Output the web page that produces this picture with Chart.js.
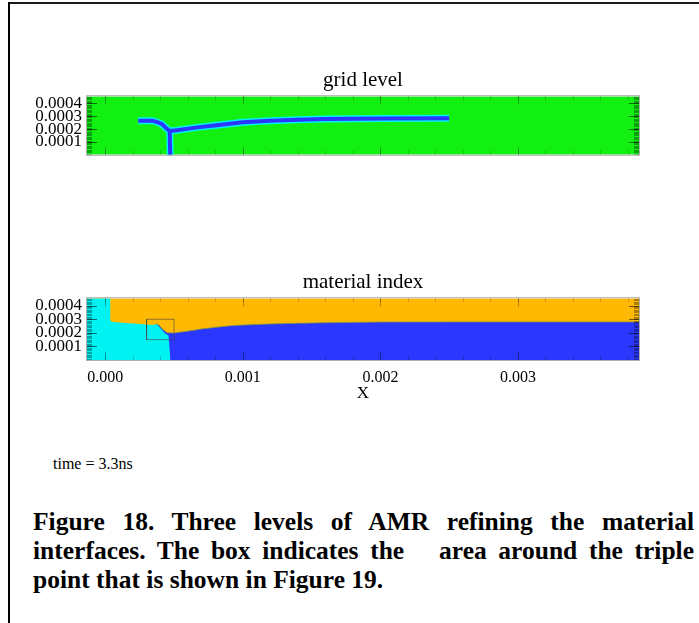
<!DOCTYPE html>
<html><head><meta charset="utf-8">
<script src="https://cdn.jsdelivr.net/npm/chart.js@4.4.1/dist/chart.umd.min.js"></script>
<style>
html,body{margin:0;padding:0;background:#fff;}
#page{position:relative;width:699px;height:623px;overflow:hidden;background:#fff;font-family:'Liberation Serif','Times New Roman',serif;color:#000;}
#frameTop{position:absolute;left:8px;top:2px;width:691px;height:2px;background:#1a1a1a;}
#frameLeft{position:absolute;left:8px;top:2px;width:2px;height:621px;background:#000;}
#c1{position:absolute;left:0;top:55px;}
#c2{position:absolute;left:0;top:258px;}
#time{position:absolute;left:53px;top:455px;font-size:16px;}
.cap{position:absolute;left:33px;width:661px;font-weight:bold;font-size:25.5px;line-height:29px;text-align:justify;text-align-last:justify;white-space:pre-wrap;}
.cap.last{text-align:left;text-align-last:left;}
</style></head>
<body><div id="page">
<div id="frameTop"></div><div id="frameLeft"></div>
<canvas id="c1" width="699" height="115"></canvas>
<canvas id="c2" width="699" height="152"></canvas>
<div id="time">time = 3.3ns</div>
<div class="cap" style="top:507px">Figure 18. Three levels of AMR refining the material</div>
<div class="cap" style="top:536px">interfaces. The box indicates the   area around the triple</div>
<div class="cap last" style="top:565px">point that is shown in Figure 19.</div>
</div>
<script>
// ---- axes ----
const xRange = [-0.000133, 0.00388];
const yRange = [0, 0.000455];
const xTickValues = [0, 0.001, 0.002, 0.003];
const xTickLabels = ['0.000', '0.001', '0.002', '0.003'];
const yTickValues = [0.0001, 0.0002, 0.0003, 0.0004];
const yTickLabels = ['0.0001', '0.0002', '0.0003', '0.0004'];
const xMinorStep = 0.0002;
const yMinorStep = 0.00001;

// ---- grid level panel: refined cells along the interfaces ----
const refineX = [0.00024, 0.00034, 0.000375, 0.00041, 0.00044, 0.000468, 0.00052, 0.00067, 0.00081, 0.001, 0.0012, 0.0014, 0.0016, 0.0018, 0.002, 0.0025];
const refineY = [0.000265, 0.000265, 0.000255, 0.00024, 0.00021, 0.000185, 0.00019, 0.000213, 0.00023, 0.000253, 0.000265, 0.000273, 0.000278, 0.00028, 0.000282, 0.000283];
const stemX = [0.000468, 0.000472];
const stemY = [0.000185, 0];

// ---- material index panel ----
const cyanX = [-0.000133, 0.000036, 0.000036, 0.00005, 0.0001, 0.0002, 0.0003, 0.00034, 0.00037, 0.000385, 0.00041, 0.000435, 0.00046, 0.000466, 0.000474];
const cyanY = [0.000455, 0.000455, 0.00029, 0.000282, 0.000276, 0.000268, 0.000261, 0.000258, 0.000264, 0.000252, 0.000222, 0.000196, 0.00018, 0.0001, 0];
const blueX = [0.00037, 0.00039, 0.00042, 0.00045, 0.0005, 0.0006, 0.0007, 0.0008, 0.0009, 0.001, 0.0012, 0.0014, 0.0016, 0.0018, 0.002, 0.0025, 0.003, 0.00388];
const blueY = [0.000266, 0.000255, 0.000222, 0.0002, 0.000198, 0.000212, 0.000228, 0.00024, 0.000251, 0.000257, 0.000265, 0.00027, 0.000274, 0.000277, 0.000279, 0.00028, 0.00028, 0.00028];
const boxX = [0.0003, 0.0005, 0.0005, 0.0003, 0.0003];
const boxY = [0.00015, 0.00015, 0.0003, 0.0003, 0.00015];

const FONT = "'Liberation Serif','Times New Roman',serif";
const GREEN = '#12f012', BLUE = '#2b36fe', CYAN = '#00f3f3', ORANGE = '#ffb902';

function pts(xs, ys) { return xs.map((x, i) => ({x: x, y: ys[i]})); }

const idlFrame = {
  id: 'idlFrame',
  afterDatasetsDraw(chart) {
    const {ctx, chartArea: a} = chart;
    const xs = chart.scales.x, ys = chart.scales.y;
    ctx.save();
    ctx.beginPath(); ctx.rect(a.left, a.top, a.width, a.height); ctx.clip();
    const seg = (x1, y1, x2, y2) => { ctx.beginPath(); ctx.moveTo(x1, y1); ctx.lineTo(x2, y2); ctx.stroke(); };
    ctx.lineWidth = 1;
    ctx.strokeStyle = 'rgba(0,0,0,0.33)';
    for (let k = 1; k * yMinorStep < yRange[1]; k++) {
      const p = Math.round(ys.getPixelForValue(k * yMinorStep)) + 0.5;
      seg(a.left, p, a.left + 5, p); seg(a.right - 5, p, a.right, p);
    }
    ctx.strokeStyle = 'rgba(0,0,0,0.2)';
    for (let k = -1; k * xMinorStep < xRange[1]; k++) {
      const p = Math.round(xs.getPixelForValue(k * xMinorStep)) + 0.5;
      seg(p, a.top, p, a.top + 4); seg(p, a.bottom - 4, p, a.bottom);
    }
    ctx.strokeStyle = 'rgba(0,0,0,0.55)';
    yTickValues.forEach(v => {
      const p = Math.round(ys.getPixelForValue(v)) + 0.5;
      seg(a.left, p, a.left + 10, p); seg(a.right - 10, p, a.right, p);
    });
    ctx.strokeStyle = 'rgba(0,0,0,0.3)';
    xTickValues.forEach(v => {
      const p = Math.round(xs.getPixelForValue(v)) + 0.5;
      seg(p, a.top, p, a.top + 8); seg(p, a.bottom - 8, p, a.bottom);
    });
    ctx.restore();
    ctx.save();
    ctx.strokeStyle = 'rgba(120,120,120,0.6)';
    ctx.lineWidth = 1;
    ctx.strokeRect(a.left - 0.5, a.top - 0.5, a.width + 1, a.height + 1);
    ctx.restore();
  }
};

function makeOptions(title, titlePad, showXLabels, xHeight) {
  return {
    responsive: false,
    animation: false,
    devicePixelRatio: 1,
    layout: {padding: {left: 0, right: 60, top: 0, bottom: 0}},
    plugins: {
      legend: {display: false},
      tooltip: {enabled: false},
      title: {display: true, text: title, fullSize: false, color: '#000',
        font: {family: FONT, size: 21, weight: 'normal'}, padding: titlePad}
    },
    elements: {point: {radius: 0}, line: {tension: 0}},
    scales: {
      x: {
        type: 'linear', min: xRange[0], max: xRange[1],
        grid: {display: false, drawTicks: false}, border: {display: false},
        afterBuildTicks: s => { s.ticks = xTickValues.map(v => ({value: v})); },
        afterFit: s => { s.height = xHeight; },
        ticks: {display: showXLabels, color: '#000', padding: 8, maxRotation: 0, autoSkip: false,
          font: {family: FONT, size: 16},
          callback: v => xTickLabels[xTickValues.indexOf(v)]},
        title: {display: showXLabels, text: 'X', color: '#000', font: {family: FONT, size: 17},
          padding: {top: 0, bottom: 6}}
      },
      y: {
        type: 'linear', min: yRange[0], max: yRange[1],
        grid: {display: false, drawTicks: false}, border: {display: false},
        afterBuildTicks: s => { s.ticks = yTickValues.map(v => ({value: v})); },
        afterFit: s => { s.width = 87; },
        ticks: {color: '#000', padding: 5, autoSkip: false, font: {family: FONT, size: 17},
          callback: v => yTickLabels[yTickValues.indexOf(v)]}
      }
    }
  };
}

new Chart(document.getElementById('c1'), {
  type: 'scatter',
  data: {datasets: [
    {data: pts(refineX, refineY), showLine: true, borderColor: BLUE, borderWidth: 4, fill: false, borderJoinStyle: 'miter'},
    {data: pts(stemX, stemY), showLine: true, borderColor: BLUE, borderWidth: 4, fill: false},
    {data: pts(refineX, refineY), showLine: true, borderColor: CYAN, borderWidth: 7, fill: false, borderJoinStyle: 'miter'},
    {data: pts(stemX, stemY), showLine: true, borderColor: CYAN, borderWidth: 7, fill: false},
    {data: pts([xRange[0], xRange[1]], [yRange[1], yRange[1]]), showLine: true, borderWidth: 0, borderColor: GREEN, backgroundColor: GREEN, fill: 'origin'}
  ]},
  options: makeOptions('grid level', {top: 13, bottom: 3}, false, 13),
  plugins: [idlFrame]
});

new Chart(document.getElementById('c2'), {
  type: 'scatter',
  data: {datasets: [
    {data: pts(boxX, boxY), showLine: true, borderColor: 'rgba(70,70,70,0.6)', borderWidth: 1, fill: false},
    {data: pts(cyanX, cyanY), showLine: true, borderWidth: 0, borderColor: CYAN, backgroundColor: CYAN, fill: 'origin'},
    {data: pts(blueX, blueY), showLine: true, borderWidth: 1, borderColor: 'rgba(110,140,90,0.8)', backgroundColor: BLUE, fill: 'origin'},
    {data: pts([xRange[0], xRange[1]], [yRange[1], yRange[1]]), showLine: true, borderWidth: 0, borderColor: ORANGE, backgroundColor: ORANGE, fill: 'origin'}
  ]},
  options: makeOptions('material index', {top: 12, bottom: 3}, true, 50),
  plugins: [idlFrame]
});
</script>
</body></html>
